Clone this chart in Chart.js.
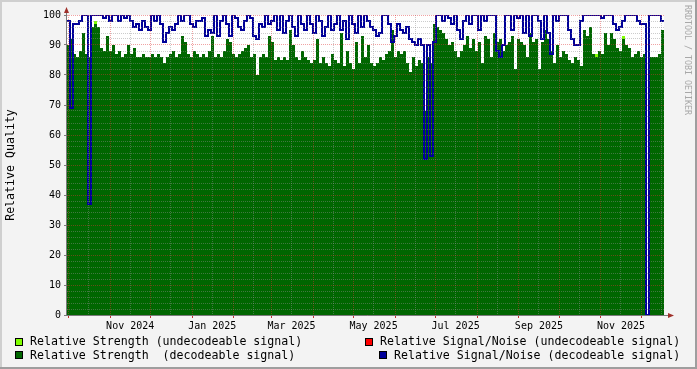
<!DOCTYPE html>
<html>
<head>
<meta charset="utf-8">
<script src="https://cdn.jsdelivr.net/npm/chart.js@4.4.0/dist/chart.umd.min.js"></script>
<style>
  html, body { margin: 0; padding: 0; background: #f3f3f3; }
  #wrap { position: relative; width: 697px; height: 369px; overflow: hidden; }
  #c { position: absolute; left: 0; top: 0; }
  .lg { position: absolute; font-family: "DejaVu Sans Mono", monospace; font-size: 11.6px;
        line-height: 14px; color: #000; white-space: pre; }
  .bx { position: absolute; width: 6px; height: 6px; border: 1px solid #000; }
</style>
</head>
<body>
<div id="wrap">
  <canvas id="c" width="697" height="369"></canvas>
  <div class="bx" style="left:15px;top:338px;background:#80ff00"></div>
  <div class="lg" style="left:30px;top:334px">Relative Strength (undecodeable signal)</div>
  <div class="bx" style="left:15px;top:351px;background:#006600"></div>
  <div class="lg" style="left:30px;top:348px">Relative Strength  (decodeable signal)</div>
  <div class="bx" style="left:365px;top:338px;background:#ff0000"></div>
  <div class="lg" style="left:380px;top:334px">Relative Signal/Noise (undecodeable signal)</div>
  <div class="bx" style="left:379px;top:351px;background:#000099"></div>
  <div class="lg" style="left:394px;top:348px">Relative Signal/Noise (decodeable signal)</div>
</div>
<script>
// one value per ~2.2 days, Sep 30 2024 .. Dec 17 2025
var strength = [
  90,92,87,86,88,94,87,86,96,97,
  96,89,88,93,88,90,87,88,86,87,
  90,87,89,86,86,87,86,86,87,86,
  87,86,84,86,87,88,86,87,93,91,
  87,86,88,87,86,87,86,88,93,86,
  87,86,88,92,91,87,86,87,88,89,
  90,86,87,80,86,87,86,93,91,85,
  86,85,86,85,95,90,86,85,88,86,
  85,84,85,92,84,86,84,83,87,85,
  84,94,83,88,84,82,91,84,93,86,
  90,84,83,84,86,85,87,88,95,86,
  88,87,88,84,81,86,83,85,84,68,
  86,84,97,96,95,94,92,90,91,88,
  86,88,90,93,89,92,88,91,84,93,
  92,86,94,91,92,88,90,91,93,82,
  92,91,90,86,94,91,92,82,91,95,
  92,88,84,90,86,88,87,85,84,86,
  85,83,95,93,96,87,86,88,87,94,
  90,94,92,89,88,92,90,89,86,87,
  88,86,87,0,86,86,86,87,95
];
var snr = [
  98,69,97,97,98,100,100,37,100,100,
  100,100,99,100,98,100,100,98,100,99,
  100,98,96,97,95,98,96,95,100,98,
  100,97,91,94,96,95,97,100,98,100,
  100,97,96,98,98,99,93,95,94,100,
  93,98,100,97,93,100,99,96,95,98,
  100,99,93,92,97,96,100,97,98,100,
  95,100,94,98,100,96,93,100,97,95,
  100,97,94,100,98,93,96,100,95,97,
  100,95,98,92,100,97,94,100,96,100,
  98,96,95,93,94,100,100,97,91,93,
  97,95,94,96,92,91,90,92,90,52,
  90,53,91,100,100,98,100,99,97,100,
  95,92,98,100,97,100,100,95,100,98,
  100,100,100,88,86,90,100,100,95,100,
  99,100,94,100,93,100,100,98,92,100,
  94,87,100,98,100,100,100,95,92,90,
  90,98,100,100,100,100,100,100,99,100,
  100,100,97,95,96,98,100,100,100,100,
  98,97,97,0,100,100,100,100,98
];
// undecodeable samples (sparse: bucket index + value)
var weakStrengthIdx = [9, 176, 185];
var weakStrengthVal = [98, 87, 93];
var weakSnrIdx = [];
var weakSnrVal = [];

var monthLabels = ['Nov 2024', 'Jan 2025', 'Mar 2025', 'May 2025', 'Jul 2025', 'Sep 2025', 'Nov 2025'];
var labelMonths = [[2024, 11], [2025, 1], [2025, 3], [2025, 5], [2025, 7], [2025, 9], [2025, 11]];

var START = Date.UTC(2024, 8, 30);
var DAYS = 444;
var N = strength.length;
var step = DAYS / N;

function dayOf(y, m, d) { return (Date.UTC(y, m - 1, d) - START) / 86400000; }

function toPoints(arr) {
  var pts = [];
  for (var i = 0; i < arr.length; i++) {
    pts.push({x: i * step, y: arr[i]});
    pts.push({x: (i + 1) * step, y: arr[i]});
  }
  return pts;
}
function sparse(idx, val) {
  var arr = [];
  for (var i = 0; i < N; i++) arr.push(null);
  idx.forEach(function(k, j) { arr[k] = val[j]; });
  return arr;
}

// x ticks: month starts (major grid), the 16th (minor grid), labels on the 16th
var kindOf = {}, labelPos = {}, xTicks = [];
for (var y = 2024, m = 10; y < 2026; ) {
  var a = dayOf(y, m, 1), b = dayOf(y, m, 16);
  if (a > 0 && a < DAYS) { xTicks.push(a); kindOf[a] = 'major'; }
  if (b > 0 && b < DAYS) { xTicks.push(b); kindOf[b] = 'minor'; }
  m++; if (m > 12) { m = 1; y++; }
}
labelMonths.forEach(function(ym, i) { labelPos[dayOf(ym[0], ym[1], 16)] = monthLabels[i]; });

var MAJOR = 'rgba(222,48,48,0.45)';
var MINOR = 'rgba(143,143,143,0.45)';

var rrdFrame = {
  id: 'rrdFrame',
  beforeDraw: function(chart) {
    var ctx = chart.ctx, a = chart.chartArea;
    ctx.save();
    ctx.fillStyle = '#f3f3f3';
    ctx.fillRect(0, 0, chart.width, chart.height);
    ctx.fillStyle = '#ffffff';
    ctx.fillRect(a.left, a.top, a.right - a.left, a.bottom - a.top);
    ctx.restore();
  },
  afterDraw: function(chart) {
    var ctx = chart.ctx, a = chart.chartArea, w = chart.width, h = chart.height;
    ctx.save();
    // shaded frame
    ctx.fillStyle = '#cfcfcf';
    ctx.fillRect(0, 0, w, 2);
    ctx.fillRect(0, 0, 2, h);
    ctx.fillStyle = '#9e9e9e';
    ctx.fillRect(0, h - 2, w, 2);
    ctx.fillRect(w - 2, 0, 2, h);
    // axes
    ctx.strokeStyle = '#7a7a7a';
    ctx.lineWidth = 1;
    ctx.beginPath();
    ctx.moveTo(a.left - 0.5, a.bottom + 0.5);
    ctx.lineTo(a.left - 0.5, a.top - 3);
    ctx.moveTo(a.left - 0.5, a.bottom + 0.5);
    ctx.lineTo(a.right + 5, a.bottom + 0.5);
    ctx.stroke();
    // arrows
    ctx.fillStyle = '#a0302a';
    ctx.beginPath();
    ctx.moveTo(a.left - 0.5, a.top - 8);
    ctx.lineTo(a.left - 3, a.top - 2);
    ctx.lineTo(a.left + 2, a.top - 2);
    ctx.closePath();
    ctx.fill();
    ctx.beginPath();
    ctx.moveTo(a.right + 10, a.bottom + 0.5);
    ctx.lineTo(a.right + 4, a.bottom - 2);
    ctx.lineTo(a.right + 4, a.bottom + 3);
    ctx.closePath();
    ctx.fill();
    // watermark
    ctx.translate(687, 5);
    ctx.rotate(Math.PI / 2);
    ctx.fillStyle = '#a8a8a8';
    ctx.font = '8.3px "DejaVu Sans Mono"';
    ctx.textAlign = 'left';
    ctx.textBaseline = 'middle';
    ctx.fillText('RRDTOOL / TOBI OETIKER', 0, 0);
    ctx.restore();
  }
};

Chart.defaults.font.family = '"DejaVu Sans Mono", monospace';
Chart.defaults.color = '#000';

new Chart(document.getElementById('c'), {
  type: 'line',
  plugins: [rrdFrame],
  data: {
    datasets: [
      {
        label: 'Relative Signal/Noise (decodeable signal)',
        data: toPoints(snr),
        borderColor: '#000099',
        borderWidth: 2,
        fill: false,
        pointRadius: 0
      },
      {
        label: 'Relative Signal/Noise (undecodeable signal)',
        data: toPoints(sparse(weakSnrIdx, weakSnrVal)),
        borderColor: '#ff0000',
        borderWidth: 2,
        fill: false,
        pointRadius: 0
      },
      {
        label: 'Relative Strength  (decodeable signal)',
        data: toPoints(strength),
        backgroundColor: '#006600',
        borderWidth: 0,
        fill: 'origin',
        pointRadius: 0
      },
      {
        label: 'Relative Strength (undecodeable signal)',
        data: toPoints(sparse(weakStrengthIdx, weakStrengthVal)),
        backgroundColor: '#80ff00',
        borderWidth: 0,
        fill: 'origin',
        pointRadius: 0
      }
    ]
  },
  options: {
    responsive: false,
    animation: false,
    devicePixelRatio: 1,
    layout: { padding: { left: 0, top: 15, right: 33, bottom: 34 } },
    plugins: { legend: { display: false }, tooltip: { enabled: false } },
    scales: {
      x: {
        type: 'linear',
        min: 0,
        max: DAYS,
        afterFit: function(s) { s.height = 20; },
        afterBuildTicks: function(s) {
          s.ticks = xTicks.map(function(v) { return {value: v}; });
        },
        grid: {
          z: 1,
          tickLength: 3,
          color: function(c) {
            var k = c.tick && kindOf[c.tick.value];
            return k === 'major' ? MAJOR : MINOR;
          },
          tickColor: function(c) {
            var k = c.tick && kindOf[c.tick.value];
            return k === 'major' ? '#c03030' : 'transparent';
          }
        },
        border: { display: false, dash: [1, 1] },
        ticks: {
          autoSkip: false,
          maxRotation: 0,
          padding: 2,
          font: { size: 10 },
          callback: function(v) { return labelPos[v] || ''; }
        }
      },
      y: {
        min: 0,
        max: 100,
        afterFit: function(s) { s.width = 67; },
        title: {
          display: true,
          text: 'Relative Quality',
          font: { size: 11.6 },
          padding: { top: 4, bottom: 0 }
        },
        grid: {
          z: 1,
          tickLength: 3,
          color: function(c) {
            return c.tick.value % 10 === 0 ? MAJOR : MINOR;
          },
          tickColor: function(c) {
            return c.tick.value % 10 === 0 ? '#7a7a7a' : 'transparent';
          }
        },
        border: { display: false, dash: [1, 1] },
        ticks: {
          stepSize: 2,
          autoSkip: false,
          padding: 3,
          font: { size: 10 },
          callback: function(v) { return v % 10 === 0 ? v : ''; }
        }
      }
    }
  }
});
</script>
</body>
</html>
